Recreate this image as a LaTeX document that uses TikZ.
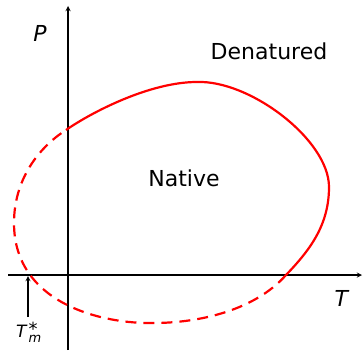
\documentclass[tikz,border=0pt]{standalone}
\usepackage{fontspec}
\setmainfont{DejaVu Sans}
\usepackage{tikz}

\newcommand{\scriptpart}[3]{\raisebox{#1}{\fontsize{#2}{#2}\selectfont #3}}

\begin{document}
\begin{tikzpicture}[x=1pt, y=-1pt, >=stealth]
\tikzstyle{axis} = [draw, ->, line width=1.3pt]
\tikzstyle{phase} = [draw=red, line width=2.2pt]
\tikzstyle{label} = [inner sep=0pt, font=\fontsize{22}{26}\selectfont]

\useasboundingbox (0,0) rectangle (363,350);

% Axes
\coordinate (Porigin) at (68,350);
\coordinate (Ptop) at (68,6);
\coordinate (Tleft) at (8,275);
\coordinate (Tright) at (362,275);
\draw [axis] (Porigin) -- (Ptop);
\draw [axis] (Tleft) -- (Tright);

% Axis labels
\node [label] (P) at (40,33) {\textit{P}};
\node [label] (T) at (342,298) {\textit{T}};

% Phase boundary, measured part
\draw [phase] (66,130) .. controls (92,112) and (150,82) .. (197,82)
  .. controls (250,80) and (329,140) .. (329,187)
  .. controls (329,225) and (310,250) .. (286,275);
% Phase boundary, extrapolated part
\draw [phase, dash pattern=on 11pt off 7pt] (286,275) .. controls (255,310) and (200,323) .. (153,323)
  .. controls (105,324) and (14,305) .. (14,223)
  .. controls (14,180) and (38,148) .. (66,130);

% Regions
\node [label, anchor=base] (Native) at (184,186) {Native};
\node [label, anchor=base] (Denatured) at (269,60) {Denatured};

% Maximum temperature mark
\coordinate (Tm) at (28,276);
\coordinate (TmTail) at (28,317);
\node [label, anchor=base west, font=\fontsize{17}{20}\selectfont] (TmLabel) at (16,337)
  {\textit{T}\kern1pt\rlap{\scriptpart{2pt}{18}{*}}\scriptpart{-5pt}{13}{\textit{m}}};
\draw [->, line width=1.3pt] (TmTail) -- (Tm);

\end{tikzpicture}
\end{document}
